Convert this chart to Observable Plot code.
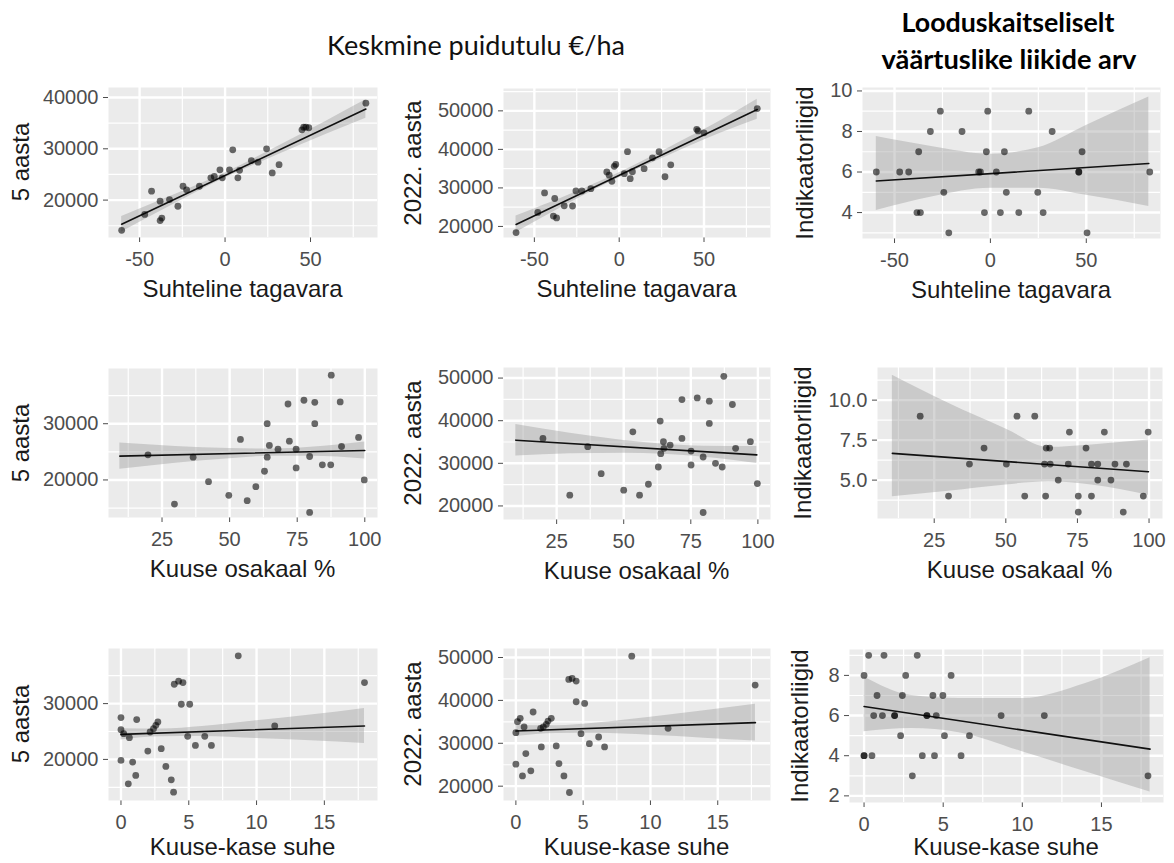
<!DOCTYPE html>
<html><head><meta charset="utf-8">
<script src="https://cdn.jsdelivr.net/npm/d3@7"></script>
<script src="https://cdn.jsdelivr.net/npm/@observablehq/plot@0.6"></script>
<style>
body{margin:0;background:#fff;}
#root{position:relative;width:1174px;height:863px;overflow:hidden;font-family:"Liberation Sans",Arial,sans-serif;}
.t{position:absolute;white-space:nowrap;line-height:1;transform:translate(-50%,-50%);}
.ty{position:absolute;white-space:nowrap;line-height:1;transform:translate(-50%,-50%) rotate(-90deg);}
.pl{position:absolute;}
</style></head><body><div id="root"></div>
<script>
// ---------- text ----------
const titleLeft = "Keskmine puidutulu €/ha";
const titleRight = ["Looduskaitseliselt", "väärtuslike liikide arv"];
const xTitles = ["Suhteline tagavara", "Kuuse osakaal %", "Kuuse-kase suhe"];
const yTitles = ["5 aasta", "2022. aasta", "Indikaatorliigid"];

// ---------- ticks ----------
const ticksStock = [-50, 0, 50], minorStock = [-25, 25, 75];
const ticksShare = [25, 50, 75, 100], minorShare = [12.5, 37.5, 62.5, 87.5];
const ticksRatio = [0, 5, 10, 15], minorRatio = [2.5, 7.5, 12.5, 17.5];
const ticks5a = [20000, 30000, 40000], minor5a = [15000, 25000, 35000];
const ticks2022 = [20000, 30000, 40000, 50000], minor2022 = [25000, 35000, 45000, 55000];
const ticksIndA = [4, 6, 8, 10], minorIndA = [3, 5, 7, 9];
const ticksIndB = [5, 7.5, 10], minorIndB = [3.75, 6.25, 8.75, 11.25];
const ticksIndC = [2, 4, 6, 8], minorIndC = [3, 5, 7, 9];

// ---------- row 1: Suhteline tagavara ----------
const r1c1_x = [-60.5,-47,-43,-38,-38,-37,-32.5,-27.6,-24.6,-22.5,-15,-8.3,-6.3,-3,-1.6,2.6,4.5,7.5,8.5,15.4,19.3,24.3,27.6,31.6,45,46,47.3,49,82.4];
const r1c1_y = [14100,17200,21750,19800,16000,16500,20100,18800,22700,22000,22700,24350,24600,25900,24350,25900,29800,24350,25800,27700,27400,30000,25300,26900,33700,34200,34200,34100,38900];
const r1c1_fitX = [-60.5, 82.4], r1c1_fitY = [15300, 37740];
const r1c1_bandX = [-60.5,-30,0,30,60,82.4];
const r1c1_bandLo = [13800,19190,24300,28710,32920,35940];
const r1c1_bandHi = [16800,20990,25300,30310,35520,39540];

const r1c2_x = [-60.8,-48,-44,-38,-38.8,-36.9,-32.4,-27.5,-25.5,-22,-16.7,-7.3,-5.9,-4.3,-2.9,-2,3,4.9,6.5,7.8,14.7,19.6,23.5,27,30.4,45.7,46.5,50,81.4];
const r1c2_y = [18400,23650,28700,27250,22700,22200,25350,25300,29200,29200,29800,34150,33300,31700,35600,36100,33700,39400,32400,34200,35000,37800,39400,32900,36000,45200,44800,44300,50600];
const r1c2_fitX = [-60.8, 81.4], r1c2_fitY = [20500, 50360];
const r1c2_bandX = [-60.8,-30,0,30,60,81.4];
const r1c2_bandLo = [18400,25870,32620,38570,44270,47800];
const r1c2_bandHi = [22700,28070,33920,40570,47470,53000];

const r1c3_x = [-59.5,-47.3,-42.6,-37.4,-38.3,-36.5,-31.3,-26.1,-24.3,-21.7,-14.8,-6.1,-5.2,-2.1,-1.4,-3.1,3.1,5.2,7.3,8.3,14.8,20,24.7,27.5,32.2,46.1,46.1,47.8,50.4,83.1];
const r1c3_y = [6,6,6,7,4,4,8,9,5,3,8,6,6,7,9,4,6,4,7,5,4,9,5,4,8,6,6,7,3,6];
const r1c3_fitX = [-59.5, 82.6], r1c3_fitY = [5.56, 6.42];
const r1c3_bandX = [-59.5,-30,0,25,50,82.6];
const r1c3_bandLo = [4.1,4.78,5.2,5.2,4.85,4.3];
const r1c3_bandHi = [7.75,7.25,6.88,7.2,8.3,9.7];

// ---------- row 2: Kuuse osakaal % ----------
const r2c1_x = [19.8,29.6,36.5,42.2,49.7,54,56.5,59.7,62.9,63.9,64.7,63.9,67.9,71.6,72.1,74.6,74.6,77.5,79.6,79.6,81.5,81.5,84.3,87.4,87.6,90.9,91.4,97.7,99.8];
const r2c1_y = [24460,15710,24050,19700,17260,27200,16310,18810,21550,30000,26130,24050,25480,33510,26900,25480,22140,34170,24170,14230,33810,30000,22680,22680,38630,33870,25950,27560,20000];
const r2c1_fitX = [9.4, 100], r2c1_fitY = [24230, 25240];
const r2c1_bandX = [9.4,30,50,65,80,100];
const r2c1_bandLo = [21880,22960,23780,24200,24210,23740];
const r2c1_bandHi = [26580,25960,25580,25500,25810,26740];

const r2c2_x = [19.9,29.9,36.6,41.6,50,53.4,55.9,59.2,62.9,63.6,63.8,64.8,65,67.3,71.7,71.7,75.1,75.1,77.4,79.6,79.6,81.9,81.9,84.2,86.7,87.3,90.5,91.7,97.2,99.8];
const r2c2_y = [35850,22520,33900,27580,23690,37400,22520,25090,29140,39900,32260,35070,33510,34290,44960,35850,32880,29610,45350,31480,18460,44580,39350,30000,29140,50420,43800,33510,35070,25250];
const r2c2_fitX = [9.8, 99.6], r2c2_fitY = [35430, 31970];
const r2c2_bandX = [9.8,30,50,65,80,99.6];
const r2c2_bandLo = [31730,32250,32380,32100,31430,29970];
const r2c2_bandHi = [39130,37050,35380,34500,34030,33970];

const r2c3_x = [20.1,30,37.3,42.4,50.2,53.9,56.6,60.1,63.5,63.9,64.1,65.3,65.5,68.3,72.2,71.8,75.3,75.3,78,79.9,79.9,82.1,82.1,84.4,86.7,88.1,91,92.1,98,99.7];
const r2c3_y = [9,4,6,7,6,9,4,9,6,4,7,7,6,5,8,6,4,3,7,6,4,6,5,8,5,6,3,6,4,8];
const r2c3_fitX = [10.4, 99.8], r2c3_fitY = [6.67, 5.52];
const r2c3_bandX = [10.4,30,50,65,80,99.8];
const r2c3_bandLo = [3.96,4.3,4.7,4.9,4.7,4.06];
const r2c3_bandHi = [11.55,9.8,8.2,7.05,7.2,7.5];

// ---------- row 3: Kuuse-kase suhe ----------
const r3c1_x = [0,0,0,0.2,0.54,0.62,0.86,1.09,1.16,1.98,2.15,2.4,2.57,2.72,2.97,3.31,3.71,3.88,3.93,4.25,4.57,4.45,5.07,4.92,5.49,6.18,6.67,8.65,11.34,17.96];
const r3c1_y = [27490,25330,19820,24610,15630,23890,19520,17130,27130,21500,24910,25510,26110,26710,21920,18740,16350,14130,33470,34010,33770,29880,29880,24130,22510,24130,22510,38560,25990,33770];
const r3c1_fitX = [0, 17.96], r3c1_fitY = [24490, 25990];
const r3c1_bandX = [0,3,6,10,14,17.96];
const r3c1_bandLo = [23490,24040,24090,23730,23360,22840];
const r3c1_bandHi = [25490,25440,25890,26930,27960,29140];

const r3c2_x = [0,0.12,0.32,0,0.49,0.61,0.74,1.11,1.28,1.84,1.89,2.04,2.26,2.39,2.63,3,3.2,3.57,3.98,3.93,4.18,4.48,4.48,4.84,5.11,5.46,6.15,6.59,8.61,11.31,17.78];
const r3c2_y = [32480,35040,35810,25120,22400,33800,27600,23570,37290,33490,29150,33800,34420,35190,35810,29380,25270,22400,18530,44880,45120,44500,39690,32250,39300,29920,31470,29150,50310,33490,43570];
const r3c2_fitX = [0, 17.8], r3c2_fitY = [32870, 34810];
const r3c2_bandX = [0,3,6,10,14,17.8];
const r3c2_bandLo = [31570,32300,32320,31860,31190,30510];
const r3c2_bandHi = [34170,34100,34720,36060,37590,39110];

const r3c3_x = [0.29,0,0,0,0.5,0.82,0.61,1.26,1.16,1.93,1.93,2.31,2.42,2.63,3.05,3.36,3.68,3.97,3.97,4.35,4.45,4.56,4.98,5.08,5.5,6.13,6.66,8.66,11.39,17.94];
const r3c3_y = [9,8,4,4,4,7,6,9,6,6,6,5,7,8,3,9,4,6,6,7,4,6,7,5,8,4,5,6,6,3];
const r3c3_fitX = [0, 18.07], r3c3_fitY = [6.45, 4.33];
const r3c3_bandX = [0,3,6,10,14,18.07];
const r3c3_bandLo = [5.19,5.35,5.15,4.2,3.2,2.19];
const r3c3_bandHi = [7.92,7.0,6.85,6.85,7.6,8.88];

// ---------- layout ----------
const root = document.getElementById("root");
const ML = 100, MR = 6, MT = 6, MB = 40;
const fmtInt = d => String(d);
const fmt1 = d3.format(".1f");

function zip(xs, ys) { return xs.map((x, i) => ({x, y: ys[i]})); }
function bandRows(xs, lo, hi) { return xs.map((x, i) => ({x, lo: lo[i], hi: hi[i]})); }
function inDom(arr, dom) { return arr.filter(v => v >= dom[0] && v <= dom[1]); }

function addText(cls, txt, cx, cy, style) {
  const d = document.createElement("div");
  d.className = cls; d.textContent = txt;
  d.style.left = cx + "px"; d.style.top = cy + "px";
  Object.assign(d.style, style);
  root.appendChild(d);
  return d;
}

function panel(c) {
  const pw = c.R - c.L, ph = c.B - c.T;
  const xt = inDom(c.xTicks, c.xDomain), yt = inDom(c.yTicks, c.yDomain);
  const xm = inDom(c.xMinor, c.xDomain), ym = inDom(c.yMinor, c.yDomain);
  const svg = Plot.plot({
    width: ML + pw + MR, height: MT + ph + MB,
    marginLeft: ML, marginRight: MR, marginTop: MT, marginBottom: MB,
    style: {fontFamily: '"Liberation Sans", Arial, sans-serif', fontSize: "20px", color: "#4D4D4D", background: "transparent", overflow: "visible"},
    x: {domain: c.xDomain, ticks: xt, tickSize: 5, tickPadding: 9, label: null, tickFormat: fmtInt},
    y: {domain: c.yDomain, ticks: yt, tickSize: 5, tickPadding: 5, label: null, tickFormat: c.yFmt || fmtInt},
    marks: [
      Plot.frame({fill: "#EBEBEB", stroke: "none"}),
      Plot.ruleX(xm, {stroke: "#fff", strokeWidth: 1.2}),
      Plot.ruleY(ym, {stroke: "#fff", strokeWidth: 1.2}),
      Plot.ruleX(xt, {stroke: "#fff", strokeWidth: 2.4}),
      Plot.ruleY(yt, {stroke: "#fff", strokeWidth: 2.4}),
      Plot.areaY(bandRows(c.bandX, c.bandLo, c.bandHi), {x: "x", y1: "lo", y2: "hi", fill: "#999", fillOpacity: 0.4, curve: "monotone-x"}),
      Plot.line(zip(c.fitX, c.fitY), {x: "x", y: "y", stroke: "#111", strokeWidth: 1.6}),
      Plot.dot(zip(c.px, c.py), {x: "x", y: "y", r: 3.4, fill: "#000", fillOpacity: 0.58, stroke: "none"})
    ]
  });
  const wrap = document.createElement("div");
  wrap.className = "pl";
  wrap.style.left = (c.L - ML) + "px"; wrap.style.top = (c.T - MT) + "px";
  wrap.appendChild(svg);
  root.appendChild(wrap);
  addText("t", c.xTitle, (c.L + c.R) / 2, c.B + (c.xTitleDy || 52), {fontSize: "24px", color: "#1A1A1A"});
  addText("ty", c.yTitle, c.yTitleX, (c.T + c.B) / 2, {fontSize: "24px", color: "#1A1A1A"});
}

const panels = [
  {L:108,T:87,R:377,B:237, xDomain:[-68.2,89.2], yDomain:[12710,41950], xTicks:ticksStock, xMinor:minorStock, yTicks:ticks5a, yMinor:minor5a,
   px:r1c1_x, py:r1c1_y, fitX:r1c1_fitX, fitY:r1c1_fitY, bandX:r1c1_bandX, bandLo:r1c1_bandLo, bandHi:r1c1_bandHi, xTitle:xTitles[0], yTitle:yTitles[0], yTitleX:21},
  {L:503,T:88,R:770,B:237, xDomain:[-68.2,89.2], yDomain:[17130,55800], xTicks:ticksStock, xMinor:minorStock, yTicks:ticks2022, yMinor:minor2022,
   px:r1c2_x, py:r1c2_y, fitX:r1c2_fitX, fitY:r1c2_fitY, bandX:r1c2_bandX, bandLo:r1c2_bandLo, bandHi:r1c2_bandHi, xTitle:xTitles[0], yTitle:yTitles[1], yTitleX:413},
  {L:862,T:87,R:1160,B:238, xDomain:[-66.7,88.7], yDomain:[2.72,10.17], xTicks:ticksStock, xMinor:minorStock, yTicks:ticksIndA, yMinor:minorIndA,
   px:r1c3_x, py:r1c3_y, fitX:r1c3_fitX, fitY:r1c3_fitY, bandX:r1c3_bandX, bandLo:r1c3_bandLo, bandHi:r1c3_bandHi, xTitle:xTitles[0], yTitle:yTitles[2], yTitleX:805},
  {L:108,T:368,R:377,B:517, xDomain:[5.2,104.7], yDomain:[13320,39820], xTicks:ticksShare, xMinor:minorShare, yTicks:ticks5a, yMinor:minor5a,
   px:r2c1_x, py:r2c1_y, fitX:r2c1_fitX, fitY:r2c1_fitY, bandX:r2c1_bandX, bandLo:r2c1_bandLo, bandHi:r2c1_bandHi, xTitle:xTitles[1], yTitle:yTitles[0], yTitleX:21},
  {L:503,T:367,R:770,B:519, xDomain:[5.2,104.7], yDomain:[16820,52480], xTicks:ticksShare, xMinor:minorShare, yTicks:ticks2022, yMinor:minor2022,
   px:r2c2_x, py:r2c2_y, fitX:r2c2_fitX, fitY:r2c2_fitY, bandX:r2c2_bandX, bandLo:r2c2_bandLo, bandHi:r2c2_bandHi, xTitle:xTitles[1], yTitle:yTitles[1], yTitleX:413},
  {L:877,T:367,R:1162,B:518, xDomain:[5.2,104.7], yDomain:[2.6,12.04], xTicks:ticksShare, xMinor:minorShare, yTicks:ticksIndB, yMinor:minorIndB, yFmt:fmt1,
   px:r2c3_x, py:r2c3_y, fitX:r2c3_fitX, fitY:r2c3_fitY, bandX:r2c3_bandX, bandLo:r2c3_bandLo, bandHi:r2c3_bandHi, xTitle:xTitles[1], yTitle:yTitles[2], yTitleX:803},
  {L:108,T:648,R:377,B:800, xDomain:[-0.92,18.92], yDomain:[12640,39870], xTicks:ticksRatio, xMinor:minorRatio, yTicks:ticks5a, yMinor:minor5a,
   px:r3c1_x, py:r3c1_y, fitX:r3c1_fitX, fitY:r3c1_fitY, bandX:r3c1_bandX, bandLo:r3c1_bandLo, bandHi:r3c1_bandHi, xTitle:xTitles[2], yTitle:yTitles[0], yTitleX:21, xTitleDy:47},
  {L:503,T:648,R:770,B:800, xDomain:[-0.92,18.92], yDomain:[16660,52100], xTicks:ticksRatio, xMinor:minorRatio, yTicks:ticks2022, yMinor:minor2022,
   px:r3c2_x, py:r3c2_y, fitX:r3c2_fitX, fitY:r3c2_fitY, bandX:r3c2_bandX, bandLo:r3c2_bandLo, bandHi:r3c2_bandHi, xTitle:xTitles[2], yTitle:yTitles[1], yTitleX:413, xTitleDy:47},
  {L:849,T:649,R:1163,B:802, xDomain:[-0.92,18.92], yDomain:[1.67,9.29], xTicks:ticksRatio, xMinor:minorRatio, yTicks:ticksIndC, yMinor:minorIndC,
   px:r3c3_x, py:r3c3_y, fitX:r3c3_fitX, fitY:r3c3_fitY, bandX:r3c3_bandX, bandLo:r3c3_bandLo, bandHi:r3c3_bandHi, xTitle:xTitles[2], yTitle:yTitles[2], yTitleX:800, xTitleDy:45}
];
panels.forEach(panel);

// ---------- titles ----------
function fitWidth(el, target) {
  const w = el.getBoundingClientRect().width;
  if (w > 0) el.style.fontSize = (parseFloat(el.style.fontSize) * target / w) + "px";
}
const tf = '"Lato", "Open Sans", sans-serif';
const t1 = addText("t", titleLeft, 476, 45, {fontFamily: tf, fontSize: "27px", color: "#111"});
fitWidth(t1, 298);
const t2 = addText("t", titleRight[0], 1008, 22, {fontFamily: tf, fontSize: "27px", fontWeight: "700", color: "#000"});
fitWidth(t2, 213);
const t3 = addText("t", titleRight[1], 1009, 59, {fontFamily: tf, fontSize: "27px", fontWeight: "700", color: "#000"});
fitWidth(t3, 255);
</script>
</body></html>
